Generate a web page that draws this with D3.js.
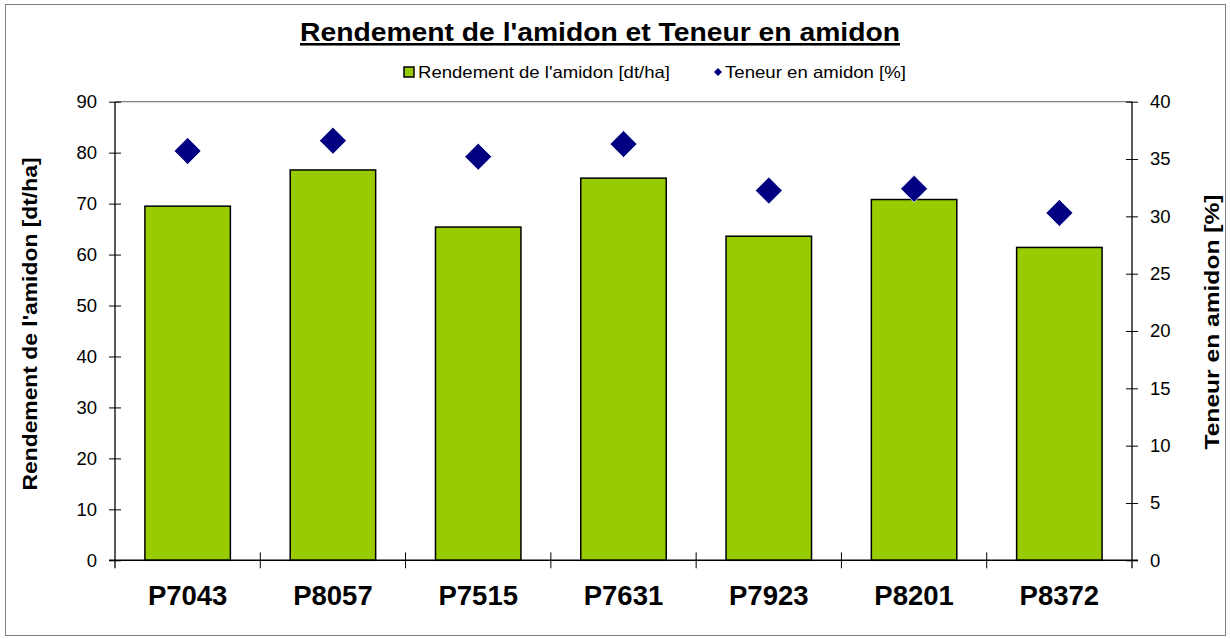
<!DOCTYPE html>
<html>
<head>
<meta charset="utf-8">
<script src="https://cdn.jsdelivr.net/npm/d3@7"></script>
<style>
  body { margin: 0; background: #fff; }
  svg { font-family: "Liberation Sans", Arial, sans-serif; }
</style>
</head>
<body>
<svg id="canvas"></svg>
<script>
let categories = ['P7043', 'P8057', 'P7515', 'P7631', 'P7923', 'P8201', 'P8372']
let rendement = [69.5, 76.6, 65.4, 75.0, 63.6, 70.8, 61.4]
let teneur = [35.7, 36.6, 35.2, 36.3, 32.25, 32.4, 30.3]
let leftTicks = [0, 10, 20, 30, 40, 50, 60, 70, 80, 90]
let rightTicks = [0, 5, 10, 15, 20, 25, 30, 35, 40]

let width = 1230
let height = 639
let plotLeft = 115
let plotRight = 1132
let plotTop = 101.7
let plotBottom = 560.3

let canvas = d3.select('#canvas')
               .attr('width', width)
               .attr('height', height)

// outer frame
canvas.append('rect')
      .attr('x', 5.5).attr('y', 4.5)
      .attr('width', 1220).attr('height', 631)
      .attr('fill', 'none')
      .attr('stroke', '#808080')
      .attr('stroke-width', 1)

let xScale = d3.scaleBand()
               .domain(categories)
               .range([plotLeft, plotRight])
               .paddingInner(0.7 / 1.7)
               .paddingOuter(0.35 / 1.7)

let bandScale = d3.scaleBand()
                  .domain(categories)
                  .range([plotLeft, plotRight])

let yLeft = d3.scaleLinear()
              .domain([0, 90])
              .range([plotBottom, plotTop])

let yRight = d3.scaleLinear()
               .domain([0, 40])
               .range([plotBottom, plotTop])

// top border of plot area
canvas.append('line')
      .attr('x1', plotLeft).attr('x2', plotRight)
      .attr('y1', plotTop).attr('y2', plotTop)
      .attr('stroke', '#808080')
      .attr('stroke-width', 1.3)

// bars
canvas.selectAll('rect.bar')
      .data(rendement)
      .enter()
      .append('rect')
      .attr('class', 'bar')
      .attr('x', (d, i) => xScale(categories[i]))
      .attr('width', xScale.bandwidth())
      .attr('y', (d) => yLeft(d))
      .attr('height', (d) => yLeft(0) - yLeft(d))
      .attr('fill', '#99CC00')
      .attr('stroke', '#000')
      .attr('stroke-width', 1.5)

// diamonds
canvas.selectAll('path.dot')
      .data(teneur)
      .enter()
      .append('path')
      .attr('class', 'dot')
      .attr('d', 'M0,-13.5L13.5,0L0,13.5L-13.5,0Z')
      .attr('transform', (d, i) => `translate(${bandScale(categories[i]) + bandScale.bandwidth() / 2}, ${yRight(d)})`)
      .attr('fill', '#000080')
      .attr('stroke', '#fff')
      .attr('stroke-width', 0.8)

// axes
let yAxisLeft = d3.axisLeft(yLeft)
                  .tickValues(leftTicks)
                  .tickSize(6)

let yAxisRight = d3.axisRight(yRight)
                   .tickValues(rightTicks)
                   .tickSize(6)

let leftG = canvas.append('g')
      .attr('transform', `translate(${plotLeft}, 0)`)
      .call(yAxisLeft)

let rightG = canvas.append('g')
      .attr('transform', `translate(${plotRight}, 0)`)
      .call(yAxisRight)

;[leftG, rightG].forEach(g => {
  g.select('.domain').remove()
  g.selectAll('.tick line')
   .attr('x1', -6).attr('x2', 6)
   .attr('stroke', '#000').attr('stroke-width', 1)
  g.selectAll('.tick text')
   .attr('font-size', 18.5)
   .attr('fill', '#000')
   .attr('font-family', '"Liberation Sans", Arial, sans-serif')
  g.append('line')
   .attr('x1', 0).attr('x2', 0)
   .attr('y1', plotTop).attr('y2', plotBottom + 8)
   .attr('stroke', '#000').attr('stroke-width', 1.3)
})
leftG.selectAll('.tick text').attr('x', -18)
rightG.selectAll('.tick text').attr('x', 18)

// x axis
let xAxis = d3.axisBottom(bandScale)
              .tickSize(0)

let xG = canvas.append('g')
      .attr('transform', `translate(0, ${plotBottom})`)
      .call(xAxis)
xG.select('.domain').remove()
xG.append('line')
  .attr('x1', plotLeft - 6).attr('x2', plotRight + 6)
  .attr('y1', 0).attr('y2', 0)
  .attr('stroke', '#000').attr('stroke-width', 1.5)
xG.selectAll('.tick text')
  .attr('y', 45)
  .attr('dy', null)
  .attr('font-size', 27.5)
  .attr('font-weight', 'bold')
  .attr('fill', '#000')
  .attr('font-family', '"Liberation Sans", Arial, sans-serif')

// separator ticks between categories
xG.selectAll('line.sep')
  .data(categories.slice(1))
  .enter()
  .append('line')
  .attr('class', 'sep')
  .attr('x1', (d) => bandScale(d)).attr('x2', (d) => bandScale(d))
  .attr('y1', -8).attr('y2', 8)
  .attr('stroke', '#000').attr('stroke-width', 1)

// title
canvas.append('text')
      .attr('x', 600).attr('y', 41)
      .attr('text-anchor', 'middle')
      .attr('font-size', 25.5)
      .attr('font-weight', 'bold')
      .attr('text-decoration', 'underline')
      .attr('textLength', 600)
      .attr('lengthAdjust', 'spacingAndGlyphs')
      .text("Rendement de l'amidon et Teneur en amidon")

// legend
let legend = canvas.append('g')
legend.append('rect')
      .attr('x', 404).attr('y', 67)
      .attr('width', 10).attr('height', 10)
      .attr('fill', '#99CC00')
      .attr('stroke', '#000').attr('stroke-width', 1.5)
legend.append('text')
      .attr('x', 418).attr('y', 78)
      .attr('font-size', 16.5)
      .attr('textLength', 252)
      .attr('lengthAdjust', 'spacingAndGlyphs')
      .text("Rendement de l'amidon [dt/ha]")
legend.append('path')
      .attr('d', 'M0,-4L4,0L0,4L-4,0Z')
      .attr('transform', 'translate(718, 72)')
      .attr('fill', '#000080')
legend.append('text')
      .attr('x', 725).attr('y', 78)
      .attr('font-size', 16.5)
      .attr('textLength', 181)
      .attr('lengthAdjust', 'spacingAndGlyphs')
      .text('Teneur en amidon [%]')

// axis titles
canvas.append('text')
      .attr('transform', 'translate(37, 324) rotate(-90)')
      .attr('text-anchor', 'middle')
      .attr('font-size', 21)
      .attr('font-weight', 'bold')
      .attr('textLength', 333)
      .attr('lengthAdjust', 'spacingAndGlyphs')
      .text("Rendement de l'amidon [dt/ha]")

canvas.append('text')
      .attr('transform', 'translate(1219, 322) rotate(-90)')
      .attr('text-anchor', 'middle')
      .attr('font-size', 21)
      .attr('font-weight', 'bold')
      .attr('textLength', 255)
      .attr('lengthAdjust', 'spacingAndGlyphs')
      .text('Teneur en amidon [%]')
</script>
</body>
</html>
